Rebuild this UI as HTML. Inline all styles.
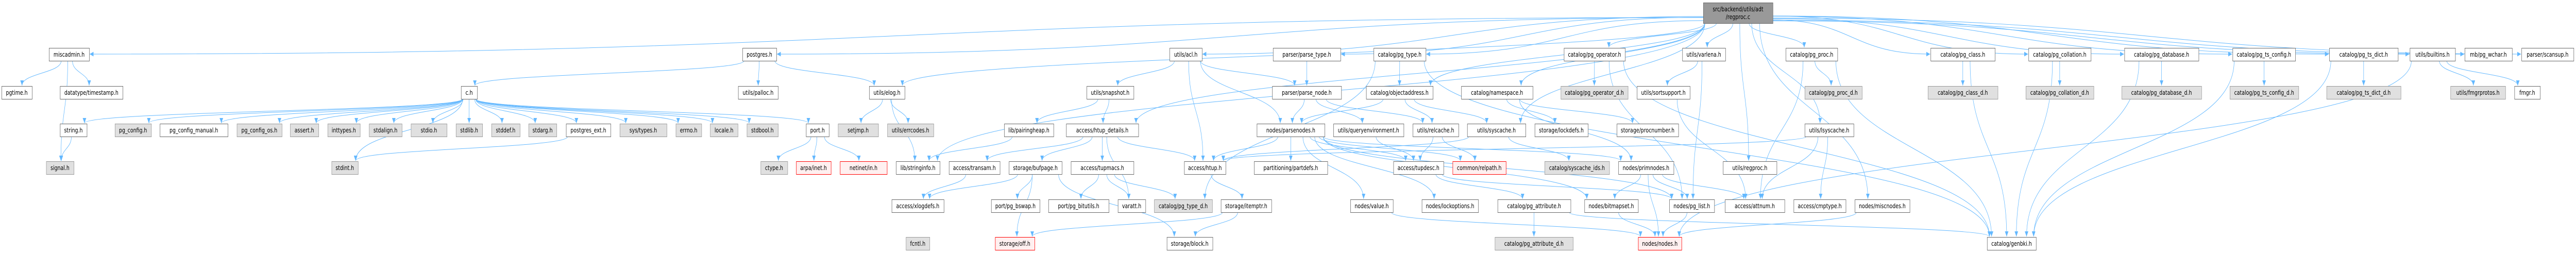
<!DOCTYPE html>
<html><head><meta charset="utf-8">
<style>
html,body{margin:0;padding:0;background:#fff;width:100%;height:100%;overflow:hidden;}
svg{display:block;width:100vw;height:100vh;}
text{font-family:"DejaVu Sans","Liberation Sans",sans-serif;font-size:12.3px;fill:#000;text-anchor:middle;}
.w{fill:#fff;stroke:#666;stroke-width:1;}
.g{fill:#e0e0e0;stroke:#999;stroke-width:1;}
.r{fill:#fff0f0;stroke:#f00;stroke-width:1;}
.root{fill:#999;stroke:#666;stroke-width:1;}
.e{fill:none;stroke:#63b8ff;stroke-width:1;}
</style></head><body>
<svg id="s" viewBox="0 0 6526 491" preserveAspectRatio="none" xmlns="http://www.w3.org/2000/svg" overflow="hidden">
<defs><marker id="a" markerUnits="userSpaceOnUse" markerWidth="11" markerHeight="9" refX="10" refY="4.5" orient="auto"><path d="M0,0 L10,4.5 L0,9 z" fill="#63b8ff"/></marker></defs>
<g id="edges"></g><g id="nodes"></g>
</svg>
<script>
var RY=[5,93,167,240,313,387,460];
var N=[
["root","src/backend/utils/adt|/regproc.c",4315,4491,0,"root"],
["miscadmin","miscadmin.h",124,226,1,"w"],
["pgtime","pgtime.h",4,81,2,"w"],
["timestamp","datatype/timestamp.h",152,311,2,"w"],
["string","string.h",152,220,3,"w"],
["pgconfig","pg_config.h",291,383,3,"g"],
["pgcfgman","pg_config_manual.h",405,577,3,"w"],
["signal","signal.h",117,187,4,"g"],
["pgcfgos","pg_config_os.h",600,714,3,"g"],
["assert","assert.h",735,807,3,"g"],
["inttypes","inttypes.h",830,912,3,"g"],
["stdalign","stdalign.h",935,1018,3,"g"],
["stdio","stdio.h",1041,1132,3,"g"],
["stdint","stdint.h",840,907,4,"g"],
["ch","c.h",1168,1209,2,"w"],
["stdlib","stdlib.h",1155,1222,3,"g"],
["stddef","stddef.h",1245,1317,3,"g"],
["stdarg","stdarg.h",1339,1410,3,"g"],
["pgext","postgres_ext.h",1434,1547,3,"w"],
["systypes","sys/types.h",1570,1689,3,"g"],
["postgres","postgres.h",1881,1967,1,"w"],
["palloc","utils/palloc.h",1870,1971,2,"w"],
["errno","errno.h",1712,1777,3,"g"],
["locale","locale.h",1799,1869,3,"g"],
["stdbool","stdbool.h",1892,1971,3,"g"],
["port","port.h",2042,2100,3,"w"],
["setjmp","setjmp.h",2123,2225,3,"g"],
["ctype","ctype.h",1927,1995,4,"g"],
["arpa","arpa/inet.h",2017,2105,4,"r"],
["netinet","netinet/in.h",2128,2247,4,"r"],
["elog","utils/elog.h",2202,2292,2,"w"],
["errcodes","utils/errcodes.h",2248,2365,3,"g"],
["pairing","lib/pairingheap.h",2544,2669,3,"w"],
["htupdet","access/htup_details.h",2701,2884,3,"w"],
["stringinfo","lib/stringinfo.h",2270,2381,4,"w"],
["transam","access/transam.h",2404,2533,4,"w"],
["bufpage","storage/bufpage.h",2556,2690,4,"w"],
["tupmacs","access/tupmacs.h",2713,2872,4,"w"],
["xlogdefs","access/xlogdefs.h",2259,2391,5,"w"],
["bswap","port/pg_bswap.h",2511,2634,5,"w"],
["bitutils","port/pg_bitutils.h",2656,2809,5,"w"],
["fcntl","fcntl.h",2295,2355,6,"g"],
["off","storage/off.h",2521,2621,6,"r"],
["acl","utils/acl.h",2963,3045,1,"w"],
["parsetype","parser/parse_type.h",3225,3396,1,"w"],
["snapshot","utils/snapshot.h",2753,2872,2,"w"],
["parsenode","parser/parse_node.h",3223,3398,2,"w"],
["parsenodes","nodes/parsenodes.h",3184,3356,3,"w"],
["htup","access/htup.h",3000,3105,4,"w"],
["partdefs","partitioning/partdefs.h",3177,3363,4,"w"],
["varatt","varatt.h",2832,2902,5,"w"],
["pgtyped","catalog/pg_type_d.h",2924,3071,5,"g"],
["itemptr","storage/itemptr.h",3093,3221,5,"w"],
["block","storage/block.h",2956,3072,6,"w"],
["pgtype","catalog/pg_type.h",3480,3612,1,"w"],
["objaddr","catalog/objectaddress.h",3461,3630,2,"w"],
["namespace","catalog/namespace.h",3702,3883,2,"w"],
["queryenv","utils/queryenvironment.h",3378,3556,3,"w"],
["relcache","utils/relcache.h",3579,3695,3,"w"],
["syscache","utils/syscache.h",3717,3865,3,"w"],
["tupdesc","access/tupdesc.h",3530,3657,4,"w"],
["relpath","common/relpath.h",3680,3815,4,"r"],
["value","nodes/value.h",3421,3529,5,"w"],
["lockopt","nodes/lockoptions.h",3602,3745,5,"w"],
["pgattr","catalog/pg_attribute.h",3794,3979,5,"w"],
["pgattrd","catalog/pg_attribute_d.h",3787,3985,6,"g"],
["pgop","catalog/pg_operator.h",3962,4117,1,"w"],
["varlena","utils/varlena.h",4262,4371,1,"w"],
["pgopd","catalog/pg_operator_d.h",3954,4124,2,"g"],
["sortsupport","utils/sortsupport.h",4147,4281,2,"w"],
["lockdefs","storage/lockdefs.h",3888,4023,3,"w"],
["procnumber","storage/procnumber.h",4096,4252,3,"w"],
["syscacheids","catalog/syscache_ids.h",3913,4077,4,"g"],
["primnodes","nodes/primnodes.h",4100,4240,4,"w"],
["regproc","utils/regproc.h",4365,4501,4,"w"],
["bitmapset","nodes/bitmapset.h",4014,4150,5,"w"],
["pglist","nodes/pg_list.h",4229,4343,5,"w"],
["attnum","access/attnum.h",4370,4521,5,"w"],
["nodes","nodes/nodes.h",4150,4260,6,"r"],
["pgproc","catalog/pg_proc.h",4524,4655,1,"w"],
["pgclass","catalog/pg_class.h",4891,5054,1,"w"],
["pgprocd","catalog/pg_proc_d.h",4572,4717,2,"g"],
["pgclassd","catalog/pg_class_d.h",4884,5061,2,"g"],
["lsyscache","utils/lsyscache.h",4572,4696,3,"w"],
["cmptype","access/cmptype.h",4544,4676,5,"w"],
["miscnodes","nodes/miscnodes.h",4699,4838,5,"w"],
["pgcoll","catalog/pg_collation.h",5139,5297,1,"w"],
["pgcolld","catalog/pg_collation_d.h",5132,5304,2,"g"],
["pgdb","catalog/pg_database.h",5382,5570,1,"w"],
["pgdbd","catalog/pg_database_d.h",5375,5577,2,"g"],
["genbki","catalog/genbki.h",5034,5158,6,"w"],
["tscfg","catalog/pg_ts_config.h",5656,5815,1,"w"],
["tscfgd","catalog/pg_ts_config_d.h",5649,5823,2,"g"],
["tsdict","catalog/pg_ts_dict.h",5901,6075,1,"w"],
["tsdictd","catalog/pg_ts_dict_d.h",5894,6082,2,"g"],
["builtins","utils/builtins.h",6105,6220,1,"w"],
["wchar","mb/pg_wchar.h",6244,6364,1,"w"],
["scansup","parser/scansup.h",6388,6520,1,"w"],
["fmgrprotos","utils/fmgrprotos.h",6208,6347,2,"g"],
["fmgr","fmgr.h",6370,6435,2,"w"]
];
var E={
root:"miscadmin postgres acl parsetype pgtype pgop varlena pgproc pgclass pgcoll pgdb tscfg tsdict builtins wchar scansup namespace lsyscache regproc miscnodes stringinfo htupdet syscache objaddr elog",
miscadmin:"pgtime timestamp signal",string:"signal",postgres:"ch palloc elog",
ch:"pgconfig pgcfgman pgcfgos assert inttypes stdalign stdio stdlib stddef stdarg pgext systypes errno locale stdbool port string stdint",
pgext:"stdint",elog:"setjmp errcodes stringinfo",port:"ctype arpa netinet",
acl:"snapshot htup parsenodes parsenode",snapshot:"htupdet pairing",pairing:"stringinfo",
htupdet:"tupmacs varatt htup transam bufpage",tupmacs:"bitutils varatt pgtyped",transam:"xlogdefs",
bufpage:"xlogdefs off bswap block",htup:"itemptr",itemptr:"block off",parsetype:"parsenode",
parsenode:"parsenodes queryenv relcache",pgtype:"objaddr pgtyped genbki",objaddr:"parsenodes relcache syscache",
namespace:"lockdefs procnumber primnodes",parsenodes:"partdefs value lockopt tupdesc relpath primnodes bitmapset pglist htup",
relcache:"tupdesc relpath",syscache:"syscacheids htup",queryenv:"tupdesc",tupdesc:"pgattr pglist",
pgattr:"pgattrd genbki",pgop:"pgopd genbki pglist",varlena:"sortsupport pglist",sortsupport:"attnum",
primnodes:"bitmapset pglist attnum nodes",bitmapset:"nodes",pglist:"nodes",value:"nodes",
pgproc:"pgprocd attnum genbki",lsyscache:"attnum cmptype htup",pgclass:"pgclassd genbki",
pgcoll:"pgcolld genbki",pgdb:"pgdbd genbki",tscfg:"tscfgd genbki",tsdict:"tsdictd genbki",
builtins:"fmgrprotos fmgr nodes",miscnodes:"nodes"
};
var NS="http://www.w3.org/2000/svg",M={};
var gn=document.getElementById("nodes"),ge=document.getElementById("edges");
N.forEach(function(n){
 var y=RY[n[4]],h=n[4]==0?40:25;
 M[n[0]]={x1:n[2],x2:n[3],y:y,h:h,cx:(n[2]+n[3])/2,row:n[4]};
 var r=document.createElementNS(NS,"rect");
 r.setAttribute("x",n[2]+0.5);r.setAttribute("y",y+0.5);r.setAttribute("width",n[3]-n[2]);r.setAttribute("height",h);
 r.setAttribute("class",n[5]);gn.appendChild(r);
 var parts=n[1].split("|");
 parts.forEach(function(p,i){
  var t=document.createElementNS(NS,"text");
  t.setAttribute("x",(n[2]+n[3])/2);
  t.setAttribute("y",parts.length>1?y+17+i*15:y+17);
  t.textContent=p;gn.appendChild(t);
 });
});
function cl(v,a,b){return Math.max(a,Math.min(b,v));}
for(var s in E){E[s].split(" ").forEach(function(t){
 var A=M[s],B=M[t];if(!A||!B)return;var d;
 var dx=B.cx-A.cx;
 if(s=="root"&&Math.abs(dx)>420&&B.row==1){
  var left=dx<0,sx=left?A.x1:A.x2,sy=A.y+25+(Math.abs(dx)%11);
  var tx=left?B.x2+1:B.x1-1,ty=B.y+12;
  var mx=(sx+tx)/2;
  d="M"+sx+","+sy+" C"+mx+","+sy+" "+mx+","+ty+" "+tx+","+ty;
 }else if(B.row>A.row){
  var sx=cl(A.cx+dx*0.15,A.x1+4,A.x2-4),sy=A.y+A.h;
  var tx=cl(B.cx-dx*0.1,B.x1+6,B.x2-6),ty=B.y-1;
  var k=(ty-sy)*0.5;
  d="M"+sx+","+sy+" C"+sx+","+(sy+k)+" "+tx+","+(ty-k)+" "+tx+","+ty;
 }else{
  var left=dx<0,sx=left?A.x1:A.x2,sy=A.y+A.h/2,tx=left?B.x2+1:B.x1-1,ty=B.y+B.h/2;
  d="M"+sx+","+sy+" L"+tx+","+ty;
 }
 var p=document.createElementNS(NS,"path");p.setAttribute("d",d);p.setAttribute("class","e");
 p.setAttribute("marker-end","url(#a)");ge.appendChild(p);
});}
</script>
</body></html>
